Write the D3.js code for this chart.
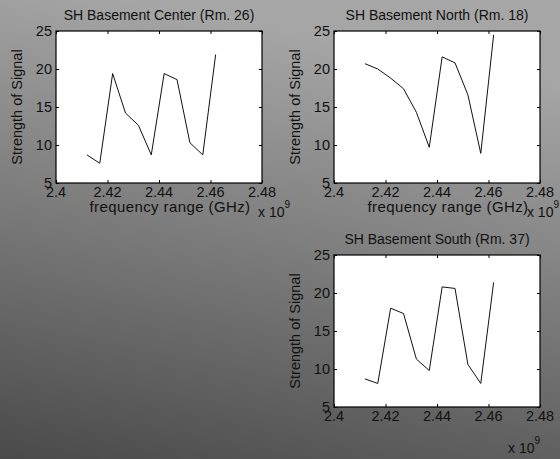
<!DOCTYPE html>
<html>
<head>
<meta charset="utf-8">
<script src="https://cdn.jsdelivr.net/npm/d3@7"></script>
<style>
  body { margin: 0; }
  svg { display: block; font-family: "Liberation Sans", Arial, sans-serif; }
</style>
</head>
<body>
<div id="chart"></div>
<script>
// wifi channel centre frequencies (Hz)
var freqs = [2.412e9, 2.417e9, 2.422e9, 2.427e9, 2.432e9, 2.437e9, 2.442e9, 2.447e9, 2.452e9, 2.457e9, 2.462e9];

var centerVals = [8.7, 7.6, 19.4, 14.2, 12.6, 8.7, 19.4, 18.6, 10.3, 8.7, 21.9];
var northVals = [20.7, 20.0, 18.8, 17.4, 14.3, 9.7, 21.6, 20.8, 16.6, 8.9, 24.5];
var southVals = [8.7, 8.1, 18.0, 17.3, 11.3, 9.8, 20.8, 20.6, 10.6, 8.1, 21.4];

var xTicks = [2.40e9, 2.42e9, 2.44e9, 2.46e9, 2.48e9];
var yTicks = [5, 10, 15, 20, 25];

var titles = ["SH Basement Center (Rm. 26)", "SH Basement North (Rm. 18)", "SH Basement South (Rm. 37)"];

var svgWidth = 560, svgHeight = 459;

var svg = d3.select("#chart")
  .append("svg")
  .attr("width", svgWidth)
  .attr("height", svgHeight);

// background gradient
var grad = svg.append("defs").append("linearGradient")
  .attr("id", "bg")
  .attr("x1", "0%").attr("y1", "100%")
  .attr("x2", "25%").attr("y2", "0%");
grad.append("stop").attr("offset", "0%").attr("stop-color", "#4a4a4a");
grad.append("stop").attr("offset", "100%").attr("stop-color", "#a6a6a6");

svg.append("rect")
  .attr("width", svgWidth)
  .attr("height", svgHeight)
  .attr("fill", "url(#bg)");

var panels = [
  { vals: centerVals, title: titles[0], left: 56, top: 31, xlabel: true },
  { vals: northVals, title: titles[1], left: 334, top: 31, xlabel: true },
  { vals: southVals, title: titles[2], left: 334, top: 255, xlabel: false }
];

var width = 206, height = 152;

var xScale = d3.scaleLinear().domain([2.40e9, 2.48e9]).range([0, width]);
var yScale = d3.scaleLinear().domain([5, 25]).range([height, 0]);

panels.forEach(function(p) {
  var g = svg.append("g")
    .attr("transform", `translate(${p.left}, ${p.top})`);

  g.append("rect")
    .attr("width", width)
    .attr("height", height)
    .attr("fill", "white");

  // ticks on all four sides, pointing inward
  g.append("g")
    .attr("transform", `translate(0, ${height})`)
    .call(d3.axisTop(xScale).tickValues(xTicks).tickSize(3).tickFormat(""));
  g.append("g")
    .call(d3.axisBottom(xScale).tickValues(xTicks).tickSize(3).tickFormat(""));
  g.append("g")
    .call(d3.axisRight(yScale).tickValues(yTicks).tickSize(3).tickFormat(""));
  g.append("g")
    .attr("transform", `translate(${width}, 0)`)
    .call(d3.axisLeft(yScale).tickValues(yTicks).tickSize(3).tickFormat(""));
  g.selectAll(".domain").remove();
  g.selectAll(".tick line").attr("stroke", "#000");

  g.append("rect")
    .attr("width", width)
    .attr("height", height)
    .attr("fill", "none")
    .attr("stroke", "#000")
    .attr("stroke-width", 1.2);

  // tick labels
  g.selectAll(".xlab")
    .data(xTicks)
    .enter()
    .append("text")
    .attr("x", d => xScale(d))
    .attr("y", height + 14)
    .attr("text-anchor", "middle")
    .style("font-size", "14.5px")
    .attr("fill", "#111")
    .text(d => d3.format(".2~f")(d / 1e9));

  g.selectAll(".ylab")
    .data(yTicks)
    .enter()
    .append("text")
    .attr("x", -4)
    .attr("y", d => yScale(d) + 5)
    .attr("text-anchor", "end")
    .style("font-size", "14.5px")
    .attr("fill", "#111")
    .text(d => d);

  // the line
  var line = d3.line()
    .x((d, i) => xScale(freqs[i]))
    .y(d => yScale(d));

  g.append("path")
    .datum(p.vals)
    .attr("d", line)
    .attr("fill", "none")
    .attr("stroke", "#111")
    .attr("stroke-width", 1);

  // title
  g.append("text")
    .attr("x", width / 2)
    .attr("y", -11)
    .attr("text-anchor", "middle")
    .style("font-size", "14px")
    .attr("fill", "#111")
    .text(p.title);

  // y axis label
  g.append("text")
    .attr("transform", `translate(-34, ${height / 2}) rotate(-90)`)
    .attr("text-anchor", "middle")
    .style("font-size", "14.5px")
    .attr("fill", "#111")
    .text("Strength of Signal");

  var ex;
  if (p.xlabel) {
    g.append("text")
      .attr("x", width / 2 + 11)
      .attr("y", height + 29)
      .attr("text-anchor", "middle")
      .style("font-size", "15px")
      .style("letter-spacing", "0.4px")
      .attr("fill", "#111")
      .text("frequency range (GHz)");
    ex = g.append("text")
      .attr("x", width - 4)
      .attr("y", height + 34);
  } else {
    ex = g.append("text")
      .attr("x", width - 32)
      .attr("y", height + 46);
  }
  ex.style("font-size", "14px")
    .attr("fill", "#111");
  ex.append("tspan").text("x 10");
  ex.append("tspan")
    .attr("dy", -9)
    .style("font-size", "10px")
    .text("9");

  // keep the exponent label inside the picture
  var w = ex.node().getComputedTextLength();
  var x0 = +ex.attr("x");
  if (p.left + x0 + w > svgWidth - 1) {
    ex.attr("x", svgWidth - 1 - p.left - w);
  }
});
</script>
</body>
</html>
